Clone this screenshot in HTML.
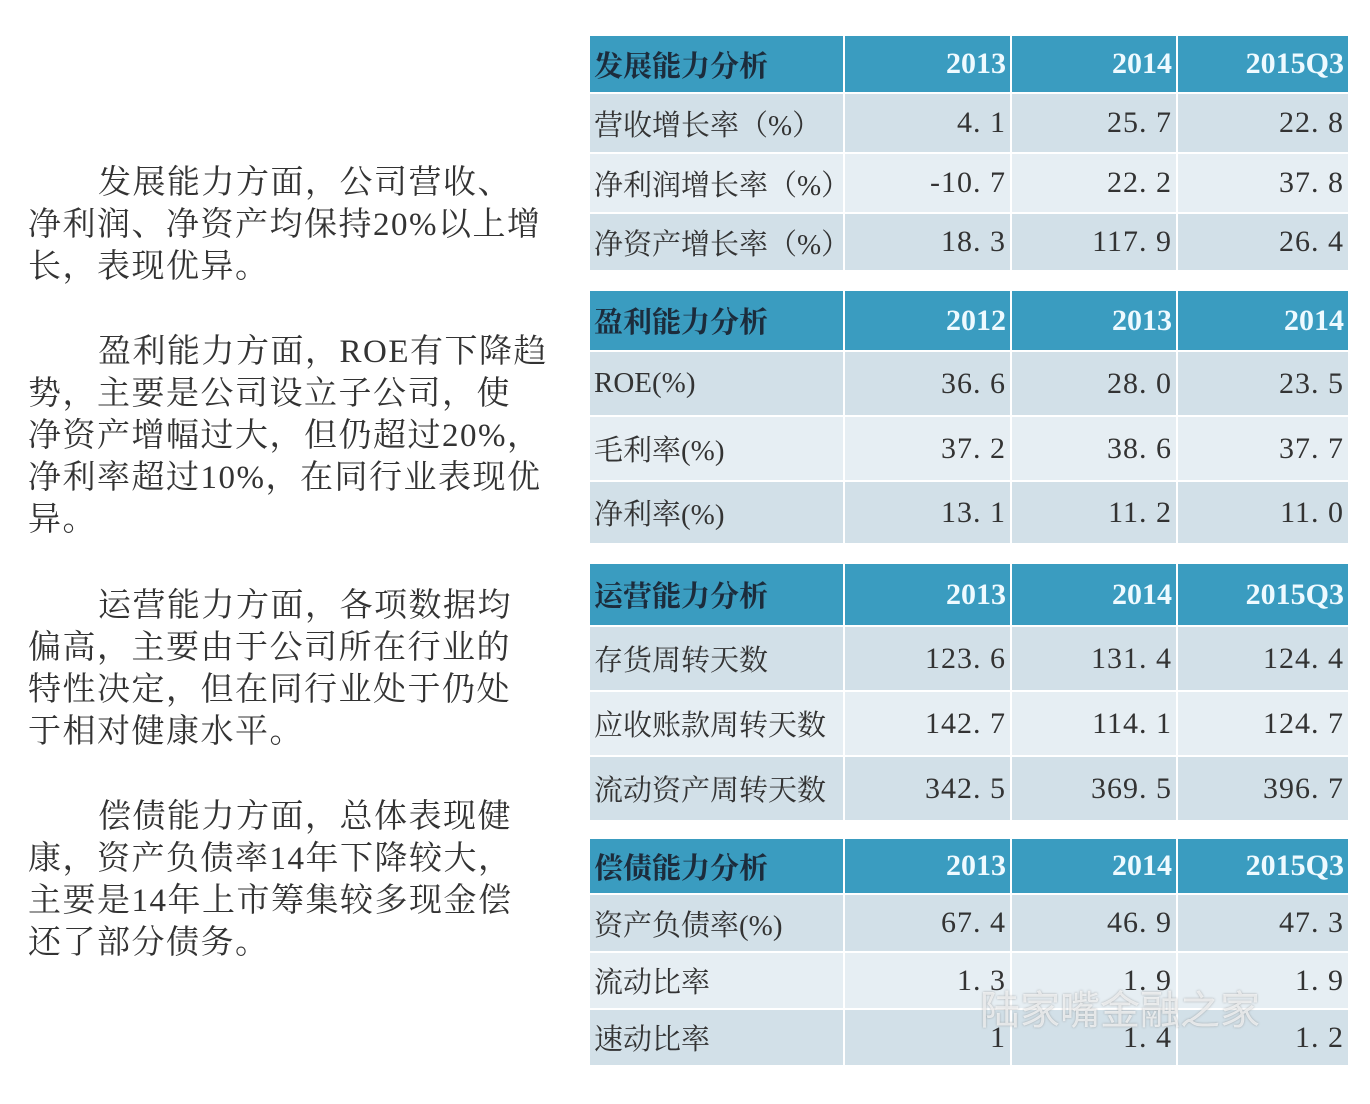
<!DOCTYPE html>
<html><head><meta charset="utf-8">
<style>
body{margin:0;width:1370px;height:1104px;background:#fff;position:relative;overflow:hidden;font-family:"Liberation Serif","Noto Serif CJK SC",serif;}
.p{position:absolute;left:28px;font-size:33px;letter-spacing:1.5px;line-height:42px;color:#333;white-space:nowrap;}
.p .i{display:inline-block;width:70px;}
table{position:absolute;left:588px;width:760px;border-collapse:collapse;table-layout:fixed;font-size:29px;color:#333;}
td{border:2px solid #fff;padding:0 4px;white-space:nowrap;overflow:hidden;}
td.n{text-align:right;font-size:30px;letter-spacing:1px;}
tr.h td{background:#3a9cc0;font-weight:bold;color:#1c2c3c;}
tr.h td.n{color:#eefaff;font-weight:bold;letter-spacing:0;}
tr.a td{background:#d2e0e8;}
tr.b td{background:#e6eef3;}
col.c0{width:255px}col.c1{width:167px}col.c2{width:166px}col.c3{width:172px}
</style></head><body>
<div class="p" style="top:162px"><span class="i"></span>发展能力方面，公司营收、<br>净利润、净资产均保持20%以上增<br>长，表现优异。</div>
<div class="p" style="top:331px"><span class="i"></span>盈利能力方面，ROE有下降趋<br>势，主要是公司设立子公司，使<br>净资产增幅过大，但仍超过20%，<br>净利率超过10%，在同行业表现优<br>异。</div>
<div class="p" style="top:585px"><span class="i"></span>运营能力方面，各项数据均<br>偏高，主要由于公司所在行业的<br>特性决定，但在同行业处于仍处<br>于相对健康水平。</div>
<div class="p" style="top:796px"><span class="i"></span>偿债能力方面，总体表现健<br>康，资产负债率14年下降较大，<br>主要是14年上市筹集较多现金偿<br>还了部分债务。</div>

<table style="top:34px">
<colgroup><col class="c0"><col class="c1"><col class="c2"><col class="c3"></colgroup>
<tr class="h" style="height:58px"><td>发展能力分析</td><td class="n">2013</td><td class="n">2014</td><td class="n">2015Q3</td></tr>
<tr class="a" style="height:60px"><td>营收增长率（%）</td><td class="n">4. 1</td><td class="n">25. 7</td><td class="n">22. 8</td></tr>
<tr class="b" style="height:60px"><td>净利润增长率（%）</td><td class="n">-10. 7</td><td class="n">22. 2</td><td class="n">37. 8</td></tr>
<tr class="a" style="height:58px"><td>净资产增长率（%）</td><td class="n">18. 3</td><td class="n">117. 9</td><td class="n">26. 4</td></tr>
</table>

<table style="top:289px">
<colgroup><col class="c0"><col class="c1"><col class="c2"><col class="c3"></colgroup>
<tr class="h" style="height:61px"><td>盈利能力分析</td><td class="n">2012</td><td class="n">2013</td><td class="n">2014</td></tr>
<tr class="a" style="height:65px"><td>ROE(%)</td><td class="n">36. 6</td><td class="n">28. 0</td><td class="n">23. 5</td></tr>
<tr class="b" style="height:65px"><td>毛利率(%)</td><td class="n">37. 2</td><td class="n">38. 6</td><td class="n">37. 7</td></tr>
<tr class="a" style="height:63px"><td>净利率(%)</td><td class="n">13. 1</td><td class="n">11. 2</td><td class="n">11. 0</td></tr>
</table>

<table style="top:562px">
<colgroup><col class="c0"><col class="c1"><col class="c2"><col class="c3"></colgroup>
<tr class="h" style="height:63px"><td>运营能力分析</td><td class="n">2013</td><td class="n">2014</td><td class="n">2015Q3</td></tr>
<tr class="a" style="height:65px"><td>存货周转天数</td><td class="n">123. 6</td><td class="n">131. 4</td><td class="n">124. 4</td></tr>
<tr class="b" style="height:65px"><td>应收账款周转天数</td><td class="n">142. 7</td><td class="n">114. 1</td><td class="n">124. 7</td></tr>
<tr class="a" style="height:65px"><td>流动资产周转天数</td><td class="n">342. 5</td><td class="n">369. 5</td><td class="n">396. 7</td></tr>
</table>

<table style="top:837px">
<colgroup><col class="c0"><col class="c1"><col class="c2"><col class="c3"></colgroup>
<tr class="h" style="height:56px"><td>偿债能力分析</td><td class="n">2013</td><td class="n">2014</td><td class="n">2015Q3</td></tr>
<tr class="a" style="height:58px"><td>资产负债率(%)</td><td class="n">67. 4</td><td class="n">46. 9</td><td class="n">47. 3</td></tr>
<tr class="b" style="height:57px"><td>流动比率</td><td class="n">1. 3</td><td class="n">1. 9</td><td class="n">1. 9</td></tr>
<tr class="a" style="height:57px"><td>速动比率</td><td class="n">1</td><td class="n">1. 4</td><td class="n">1. 2</td></tr>
</table>

<div style="position:absolute;left:980px;top:978px;font-size:40px;color:rgba(255,255,255,0.7);text-shadow:0 0 2px rgba(120,120,120,0.6);font-family:'Noto Sans CJK SC',sans-serif;">陆家嘴金融之家</div>
</body></html>
